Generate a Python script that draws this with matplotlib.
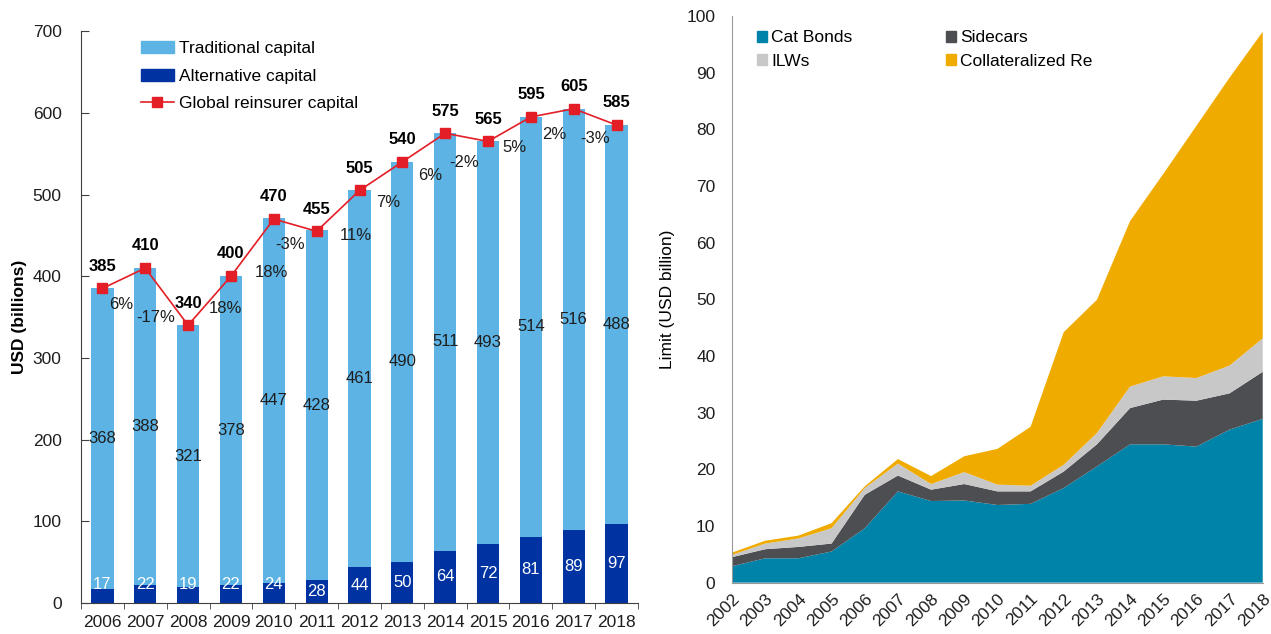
import numpy as np
import matplotlib
matplotlib.use('Agg')
import matplotlib.pyplot as plt
from matplotlib.patches import Patch
from matplotlib.lines import Line2D

plt.rcParams['font.family'] = ['Liberation Sans', 'DejaVu Sans']

# left chart data (USD billions)
years_l = ['2006', '2007', '2008', '2009', '2010', '2011', '2012',
           '2013', '2014', '2015', '2016', '2017', '2018']
traditional = [368, 388, 321, 378, 447, 428, 461, 490, 511, 493, 514, 516, 488]
alternative = [17, 22, 19, 22, 24, 28, 44, 50, 64, 72, 81, 89, 97]
total = [385, 410, 340, 400, 470, 455, 505, 540, 575, 565, 595, 605, 585]
growth = ['6%', '-17%', '18%', '18%', '-3%', '11%', '7%', '6%', '-2%', '5%', '2%', '-3%']

# right chart data (limit, USD billion)
years_r = list(range(2002, 2019))
cat_bonds = [2.9, 4.3, 4.3, 5.5, 9.6, 16.1, 14.4, 14.5, 13.7, 13.9, 16.7, 20.5, 24.4, 24.4, 24.0, 27.0, 28.9]
sidecars = [1.6, 1.6, 2.0, 1.4, 5.9, 2.8, 2.0, 2.9, 2.4, 2.2, 2.9, 3.9, 6.4, 7.9, 8.1, 6.4, 8.3]
ilws = [0.4, 1.0, 1.5, 2.7, 1.2, 2.1, 1.0, 2.1, 1.2, 1.0, 1.2, 2.0, 3.8, 4.1, 4.0, 4.9, 5.9]
collat_re = [0.4, 0.5, 0.5, 0.9, 0.3, 0.8, 1.4, 2.8, 6.3, 10.4, 23.4, 23.5, 29.2, 35.7, 44.5, 50.8, 54.1]

# colours
c_trad = '#5DB3E3'
c_alt = '#0033A1'
c_red = '#E31E26'
c_cat = '#0083A9'
c_side = '#4D4E52'
c_ilw = '#C8C8C8'
c_coll = '#F0AB00'
txt = '#1E1E1E'

# label nudges for the growth labels (bar units, value units)
gx = [-0.05, -0.26, 0.37, 0.44, -0.12, 0.42, 0.16, 0.16, -0.05, 0.12, 0.05, 0.0]
gy = [-32, -25, -9, -31, -24, -30, -32, -34, -31, -23, -26, -27]

fs = 12.5

fig = plt.figure(figsize=(12.71, 6.34), dpi=100)

# ---------------- left chart ----------------
ax = fig.add_axes([0.0637, 0.0489, 0.4383, 0.902])
x = np.arange(len(years_l))
ax.bar(x, alternative, width=0.52, color=c_alt, zorder=2)
ax.bar(x, traditional, width=0.52, bottom=alternative, color=c_trad, zorder=2)
ax.plot(x, total, color=c_red, lw=1.2, marker='s', ms=6.5, mfc=c_red, mec=c_red, zorder=4)

for i in range(len(x)):
    ax.text(x[i], alternative[i] + traditional[i] / 2, str(traditional[i]),
            ha='center', va='center', fontsize=12, color=txt, zorder=5)
    ya = alternative[i] / 2 if alternative[i] >= 28 else 23
    ax.text(x[i], ya, str(alternative[i]), ha='center', va='center',
            fontsize=12, color='white', zorder=5)
    ax.annotate(str(total[i]), (x[i], total[i]), xytext=(0, 16),
                textcoords='offset points', ha='center', va='center',
                fontsize=12, fontweight='bold', color='black', zorder=5)

for i in range(len(growth)):
    xm = i + 0.5 + gx[i]
    ym = (total[i] + total[i + 1]) / 2 + gy[i]
    ax.text(xm, ym, growth[i], ha='center', va='center', fontsize=12, color=txt, zorder=5)

ax.set_xlim(-0.5, len(x) - 0.5)
ax.set_ylim(0, 700)
ax.set_yticks(range(0, 701, 100))
ax.set_xticks(x)
ax.set_xticklabels(years_l)
ax.set_xticks(np.arange(-0.5, len(x), 1.0), minor=True)
ax.tick_params(axis='x', which='major', length=0, pad=9, labelsize=fs, labelcolor=txt)
ax.tick_params(axis='x', which='minor', length=4, direction='out', color='#404040')
ax.tick_params(axis='y', direction='in', length=6, pad=14, labelsize=fs, labelcolor=txt, color='#404040')
for s in ['top', 'right']:
    ax.spines[s].set_visible(False)
for s in ['left', 'bottom']:
    ax.spines[s].set_color('#404040')
ax.set_ylabel('USD (billions)', fontsize=12.5, fontweight='bold', labelpad=4)

handles = [Patch(color=c_trad), Patch(color=c_alt),
           Line2D([0], [0], color=c_red, lw=1.2, marker='s', ms=6.5)]
ax.legend(handles, ['Traditional capital', 'Alternative capital', 'Global reinsurer capital'],
          loc='upper left', bbox_to_anchor=(0.092, 0.998), frameon=False, fontsize=fs,
          handlelength=1.9, handletextpad=0.3, labelspacing=0.72, borderpad=0)

# ---------------- right chart ----------------
ax2 = fig.add_axes([0.576, 0.081, 0.4175, 0.894])
polys = ax2.stackplot(years_r, cat_bonds, sidecars, ilws, collat_re,
                      colors=[c_cat, c_side, c_ilw, c_coll], lw=0)
ax2.set_xlim(2002, 2018)
ax2.set_ylim(0, 100)
ax2.set_yticks(range(0, 101, 10))
ax2.set_xticks(years_r)
ax2.set_xticklabels([str(y) for y in years_r], rotation=45, ha='right', rotation_mode='anchor')
ax2.tick_params(axis='x', length=0, pad=6, labelsize=fs, labelcolor=txt)
ax2.tick_params(axis='y', length=0, pad=12, labelsize=fs, labelcolor=txt)
for s in ['top', 'right']:
    ax2.spines[s].set_visible(False)
for s in ['left', 'bottom']:
    ax2.spines[s].set_color('#9A9A9A')
ax2.set_ylabel('Limit (USD billion)', fontsize=fs, labelpad=8)

leg_h = [Patch(color=c_cat), Patch(color=c_ilw), Patch(color=c_side), Patch(color=c_coll)]
ax2.legend(leg_h, ['Cat Bonds', 'ILWs', 'Sidecars', 'Collateralized Re'], ncol=2,
           loc='upper left', bbox_to_anchor=(0.03, 0.99), frameon=False, fontsize=fs,
           handlelength=0.6, handleheight=0.6, handletextpad=0.25, labelspacing=0.5,
           columnspacing=5.35, borderpad=0)

fig.savefig('out.png', dpi=100)
